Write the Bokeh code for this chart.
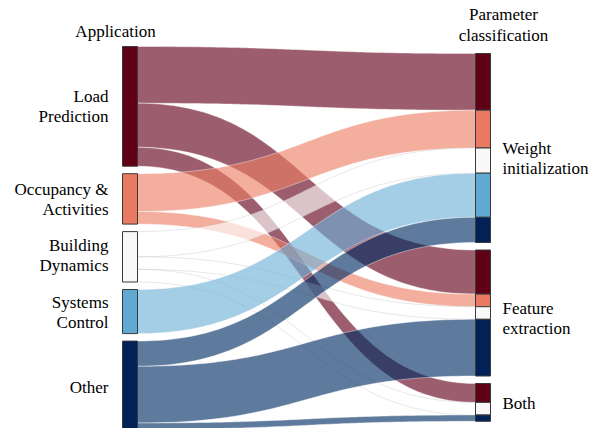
import numpy as np
from bokeh.plotting import figure
from bokeh.models import Range1d
from bokeh.embed import file_html
from bokeh.resources import INLINE
from bokeh.core.properties import value

# ---------------- data ----------------
sources = ["Load Prediction", "Occupancy & Activities", "Building Dynamics", "Systems Control", "Other"]
source_lines = [["Load", "Prediction"], ["Occupancy &", "Activities"], ["Building", "Dynamics"],
                ["Systems", "Control"], ["Other"]]
targets = ["Weight initialization", "Feature extraction", "Both"]
target_lines = [["Weight", "initialization"], ["Feature", "extraction"], ["Both"]]
to_weight_init = [9, 6, 4, 7, 4]
to_feature_extraction = [7, 2, 2, 0, 9]
to_both = [3, 0, 2, 0, 1]
left_title = ["Application"]
right_title = ["Parameter", "classification"]

# ---------------- style ----------------
node_colors = ["#5f0014", "#e97a61", "#f8f8f8", "#5fa9d2", "#022156"]
flow_colors = ["#620019", "#ec7f66", "#ffffff", "#6fb0d8", "#002d62"]
flow_alpha = 0.63
flow_line = ["white", "white", "#a0a0a0", "white", "white"]
flow_line_alpha = [0.6, 0.6, 0.35, 0.6, 0.6]
FONT = value("Liberation Serif")
FS = "17px"
TXT = "#000000"

W, H = 598, 428
SCALE = 6.3
GAP = 7.5
LEFT_TOP = 46
RIGHT_TOP = 53
LX0, LX1 = 122, 137
RX0, RX1 = 475, 490
LINE_SP = 20
left_label_off = [0, 1, -1, 1, 2]
right_label_off = [10, 5, 1]

flows = np.array([to_weight_init, to_feature_extraction, to_both], dtype=float).T  # (src, tgt)
src_tot = flows.sum(axis=1)
tgt_tot = flows.sum(axis=0)

src_y0 = []
y = LEFT_TOP
for t in src_tot:
    src_y0.append(y)
    y += t * SCALE + GAP
tgt_y0 = []
y = RIGHT_TOP
for t in tgt_tot:
    tgt_y0.append(y)
    y += t * SCALE + GAP


def bez(xa, ya, xb, yb, n=80):
    t = np.linspace(0, 1, n)
    xm = (xa + xb) / 2
    x = (1 - t) ** 3 * xa + 3 * (1 - t) ** 2 * t * xm + 3 * (1 - t) * t ** 2 * xm + t ** 3 * xb
    yy = (1 - t) ** 3 * ya + 3 * (1 - t) ** 2 * t * ya + 3 * (1 - t) * t ** 2 * yb + t ** 3 * yb
    return x, yy


p = figure(width=W, height=H, output_backend="svg", toolbar_location=None,
           x_range=Range1d(0, W), y_range=Range1d(H, 0),
           min_border=0, outline_line_color=None)
p.axis.visible = False
p.grid.visible = False
p.background_fill_color = "white"
p.border_fill_color = "white"

# flows, grouped by source
for i in range(len(sources)):
    xs, ys = [], []
    for j in range(len(targets)):
        v = flows[i, j]
        if v <= 0:
            continue
        ly = src_y0[i] + flows[i, :j].sum() * SCALE
        ry = tgt_y0[j] + flows[:i, j].sum() * SCALE
        h = v * SCALE
        tx, ty = bez(LX1, ly, RX0, ry)
        bx, by = bez(LX1, ly + h, RX0, ry + h)
        xs.append(list(np.concatenate([tx, bx[::-1]])))
        ys.append(list(np.concatenate([ty, by[::-1]])))
    if xs:
        p.patches(xs, ys, fill_color=flow_colors[i], fill_alpha=flow_alpha,
                  line_color=flow_line[i], line_alpha=flow_line_alpha[i], line_width=0.7)

# left nodes
ltop = [src_y0[i] for i in range(len(sources))]
lbot = [src_y0[i] + src_tot[i] * SCALE for i in range(len(sources))]
p.quad(left=LX0, right=LX1, top=ltop, bottom=lbot, fill_color=node_colors,
       line_color="#3a3a3a", line_width=1)

# right nodes, segmented by source
rt, rb, rc = [], [], []
for j in range(len(targets)):
    cum = 0.0
    for i in range(len(sources)):
        v = flows[i, j]
        if v <= 0:
            continue
        rt.append(tgt_y0[j] + cum * SCALE)
        rb.append(tgt_y0[j] + (cum + v) * SCALE)
        rc.append(node_colors[i])
        cum += v
p.quad(left=RX0, right=RX1, top=rt, bottom=rb, fill_color=rc,
       line_color="#3a3a3a", line_width=1)

# labels
lx, ly_, lt = [], [], []
for i, lines in enumerate(source_lines):
    c = src_y0[i] + src_tot[i] * SCALE / 2 + left_label_off[i]
    n = len(lines)
    for k, s in enumerate(lines):
        lx.append(108)
        ly_.append(c + (k - (n - 1) / 2) * LINE_SP)
        lt.append(s)
p.text(x=lx, y=ly_, text=lt, text_font=FONT, text_font_size=FS, text_align="right",
       text_baseline="middle", text_color=TXT)

rx, ry_, rtx = [], [], []
for j, lines in enumerate(target_lines):
    c = tgt_y0[j] + tgt_tot[j] * SCALE / 2 + right_label_off[j]
    n = len(lines)
    for k, s in enumerate(lines):
        rx.append(502)
        ry_.append(c + (k - (n - 1) / 2) * LINE_SP)
        rtx.append(s)
p.text(x=rx, y=ry_, text=rtx, text_font=FONT, text_font_size=FS, text_align="left",
       text_baseline="middle", text_color=TXT)

p.text(x=[115], y=[31], text=left_title, text_font=FONT, text_font_size=FS,
       text_align="center", text_baseline="middle", text_color=TXT)
p.text(x=[503, 503], y=[14, 35], text=right_title, text_font=FONT, text_font_size=FS,
       text_align="center", text_baseline="middle", text_color=TXT)

open("out.html", "w").write(file_html(p, INLINE))
